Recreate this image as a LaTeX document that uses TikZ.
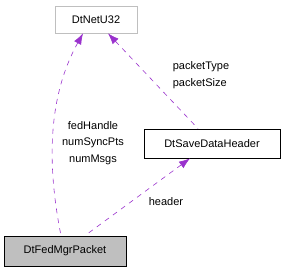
\documentclass[tikz,border=0pt]{standalone}
\usepackage{fontspec}
\setmainfont{Liberation Sans}
\usepackage{xcolor}
\usetikzlibrary{arrows.meta,positioning}
\definecolor{edgepurple}{HTML}{9A32CD}
\definecolor{boxgray}{HTML}{BFBFBF}
\tikzset{>={Latex[length=11pt,width=8pt]}}
\tikzset{font=\fontsize{11}{16.5}\selectfont}
\tikzset{classbox/.style={draw=black, thick, fill=white, inner sep=0pt},
  extbox/.style={draw=boxgray, thick, fill=white, inner sep=0pt},
  selfbox/.style={draw=black, thick, fill=boxgray, inner sep=0pt},
  usage/.style={<-, edgepurple, semithick, dash pattern=on 5pt off 5pt},
  memberlabel/.style={align=center, inner sep=0pt}}

\begin{document}
\begin{tikzpicture}[x=1pt,y=-1pt]
  \useasboundingbox (0,0) rectangle (285,272);
  % classes
  \node[extbox, minimum width=82pt, minimum height=27pt] (netu) at (96,19.5) {DtNetU32};
  \node[classbox, minimum width=136pt, minimum height=29pt] (savehdr) at (212,143.5) {DtSaveDataHeader};
  \node[selfbox, minimum width=122pt, minimum height=30pt] (fedpkt) at (65,251) {DtFedMgrPacket};
  % members
  \draw[usage] ([xshift=-13pt]netu.south) .. controls (46,100) and (48,170) .. ([xshift=-4pt]fedpkt.north);
  \draw[usage] ([xshift=12pt]netu.south) -- ([xshift=-14pt]savehdr.north);
  \draw[usage] ([xshift=-22pt]savehdr.south) -- ([xshift=20pt]fedpkt.north);
  \node[memberlabel] (fedlbl) at (93,143) {fedHandle\\numSyncPts\\numMsgs};
  \node[memberlabel, align=left] (pktlbl) at (201,75) {packetType\\packetSize};
  \node[memberlabel] (hdrlbl) at (166,202) {header};
\end{tikzpicture}
\end{document}
